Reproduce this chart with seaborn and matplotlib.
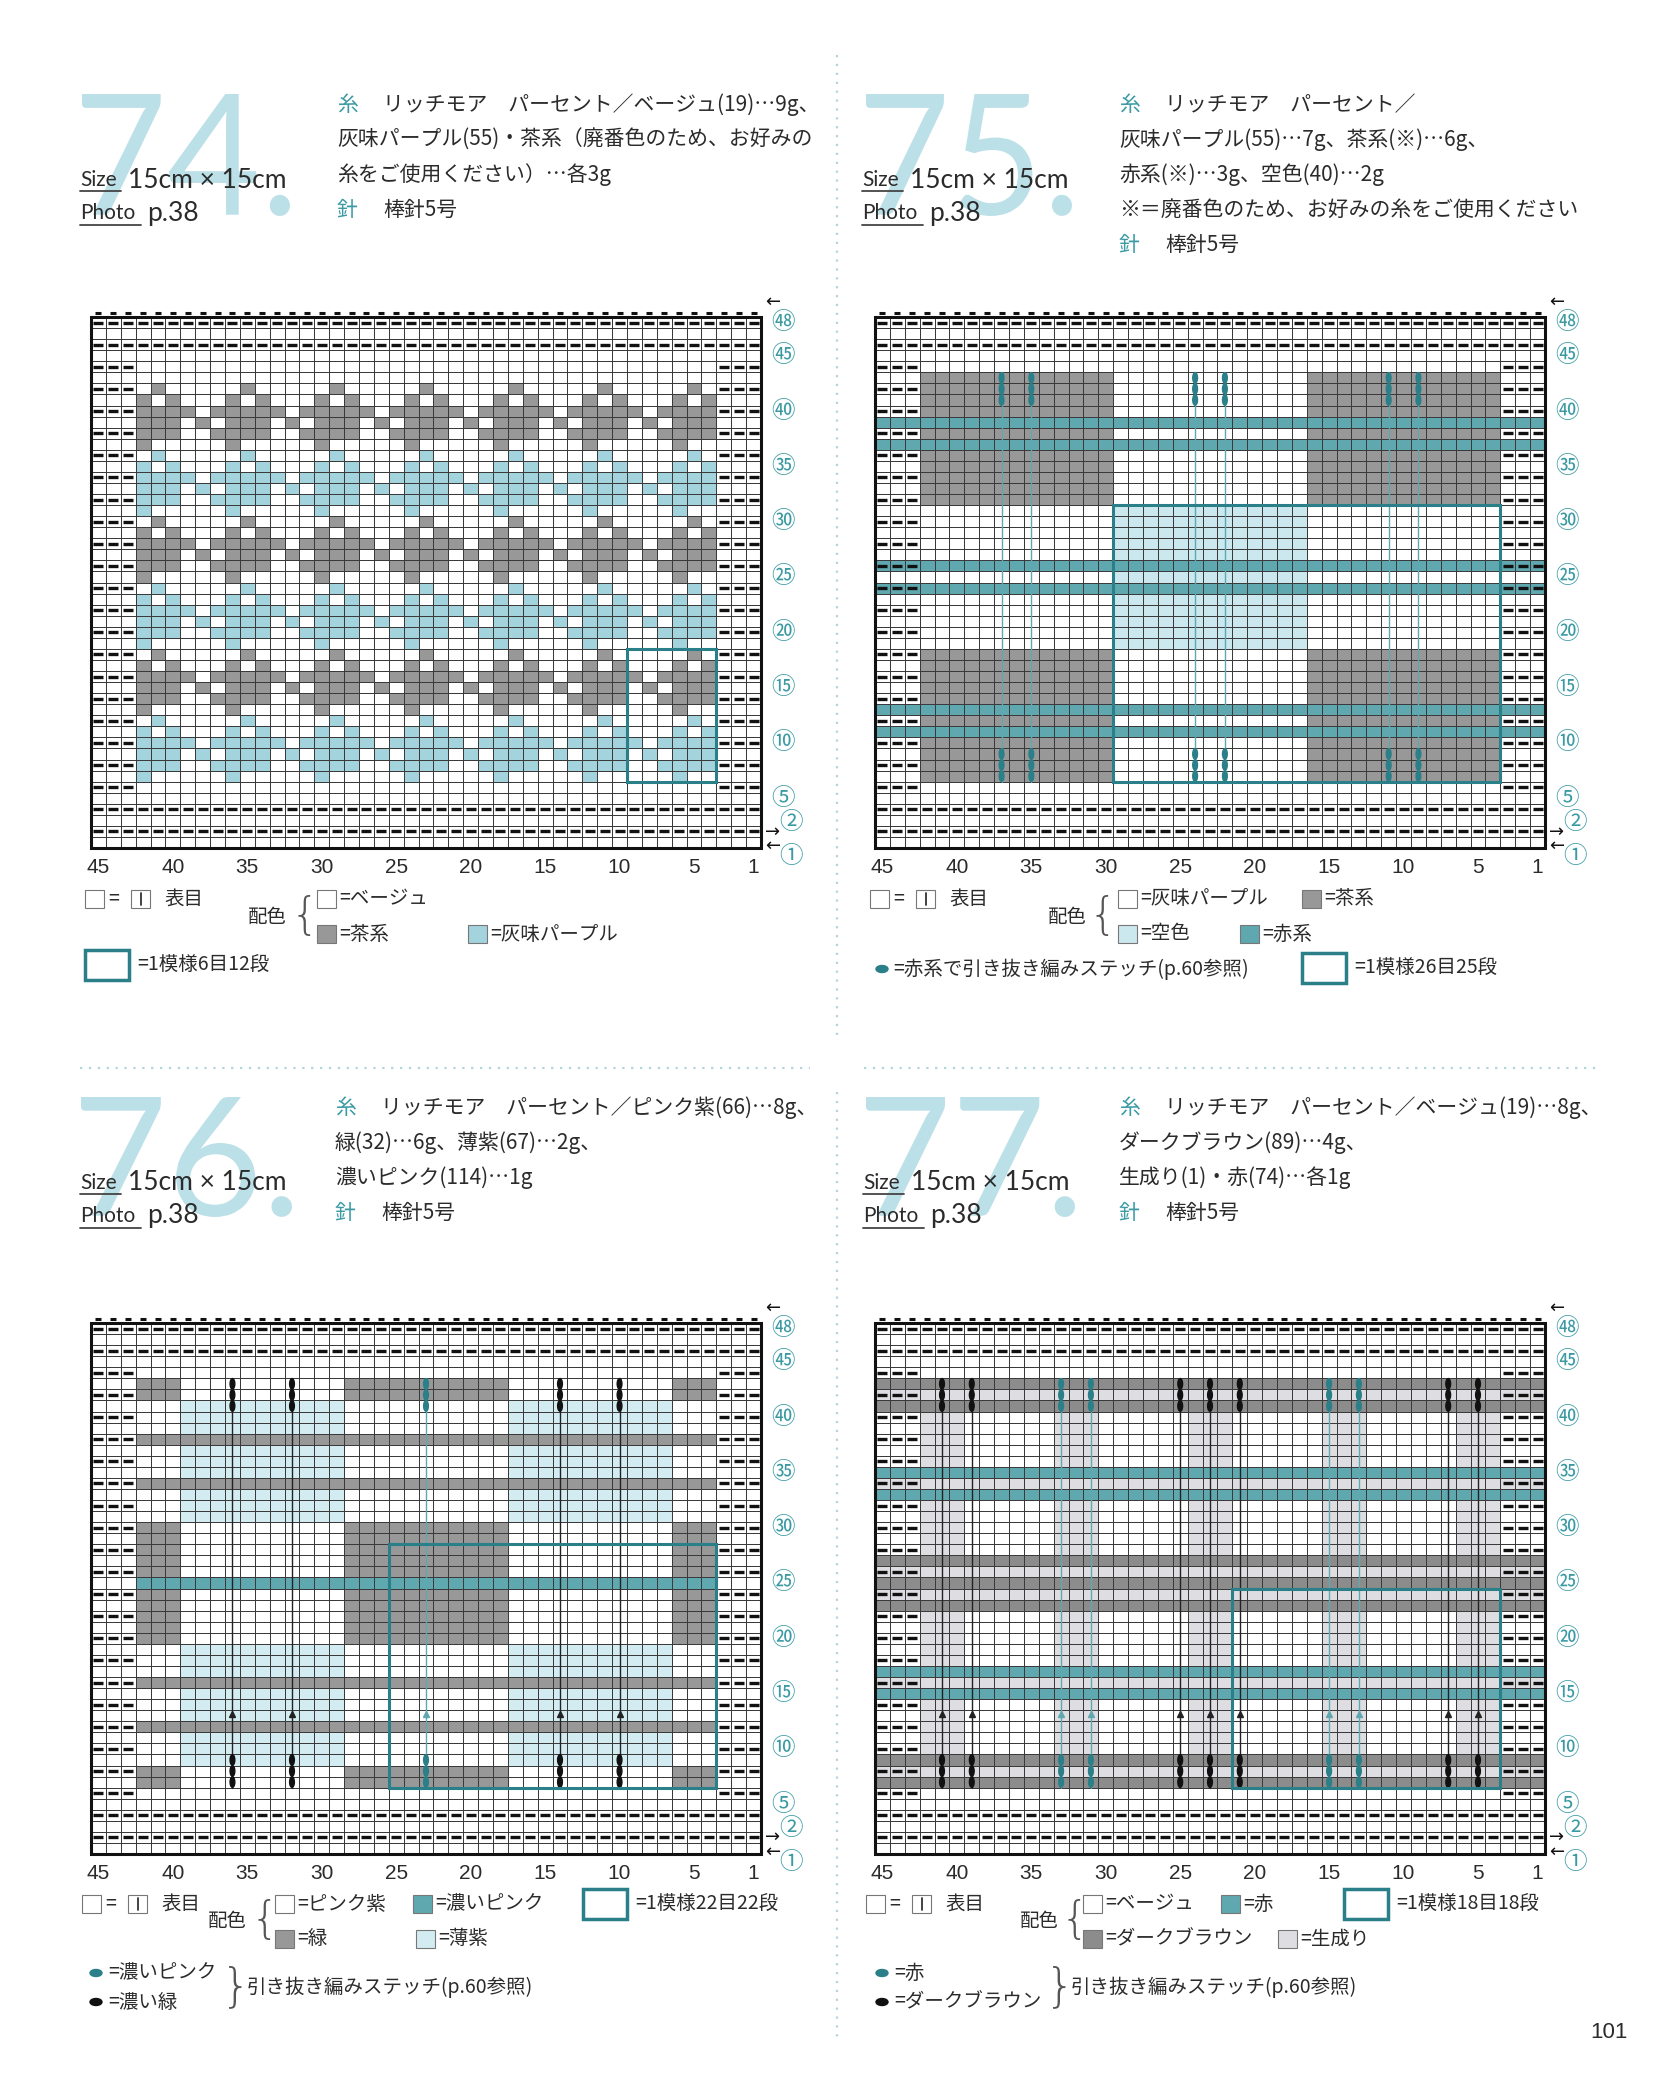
import numpy as np
import matplotlib
matplotlib.use("Agg")
import matplotlib.pyplot as plt
from matplotlib.colors import ListedColormap
from matplotlib.patches import Rectangle, Ellipse, PathPatch
from matplotlib.textpath import TextPath
from matplotlib.font_manager import FontProperties
from matplotlib.transforms import Affine2D
import seaborn as sns

W, H = 1667, 2079
N_COLS, N_ROWS = 45, 48

# ---------------------------------------------------------------- chart data
GARTER_ROWS = [2, 4, 46, 48]
EDGE_COLS = [45, 44, 43, 3, 2, 1]
COL_TICKS = [45, 40, 35, 30, 25, 20, 15, 10, 5, 1]
ROW_TICKS = [48, 45, 40, 35, 30, 25, 20, 15, 10, 5, 2, 1]
CIRCLED = {48: '㊽', 45: '㊺', 40: '㊵', 35: '㉟', 30: '㉚', 25: '㉕', 20: '⑳',
           15: '⑮', 10: '⑩', 5: '⑤', 2: '②', 1: '①'}

# 74: 6 st x 6 row motif (top row first, stitches col 9..4), bands from row 7 up
MOTIF_74 = ['000010', '000101', '101111', '010111', '001111', '000100']
BANDS_74 = [2, 1, 2, 1, 2, 1]          # 2 = 灰味パープル, 1 = 茶系

# 75: (code, col_hi, col_lo, row_lo, row_hi)
BLOCKS_75 = [(1, 42, 30, 7, 18), (1, 16, 4, 7, 18),
             (1, 42, 30, 32, 43), (1, 16, 4, 32, 43),
             (2, 29, 17, 19, 31)]
STRIPES_75 = [11, 13, 24, 26, 37, 39]
SLIP_TEAL_75 = [37, 35, 24, 22, 11, 9]

# 76
BLOCK_COLS_76 = [(42, 40), (28, 18), (6, 4)]
BLOCK_ROWS_76 = [(7, 8), (20, 30), (42, 43)]
LIGHT_COLS_76 = [(39, 29), (17, 7)]
LIGHT_ROWS_76 = [(9, 19), (31, 41)]
GRAY_STRIPES_76 = [12, 16, 34, 38]
TEAL_STRIPES_76 = [25]
SLIP_DARK_76 = [36, 32, 14, 10]
SLIP_TEAL_76 = [23]

# 77
BAND_COLS_77 = [(42, 40), (33, 31), (24, 22), (15, 13), (6, 4)]
LIGHT_ROWS_77 = [8, 16, 24, 26, 34, 42]
DARK_ROWS_77 = [7, 9, 23, 25, 27, 41, 43]
TEAL_ROWS_77 = [15, 17, 33, 35]
SLIP_DARK_77 = [41, 39, 25, 23, 21, 7, 5]
SLIP_TEAL_77 = [33, 31, 15, 13]

# repeat boxes (col_hi, col_lo, row_lo, row_hi)
BOX_74 = (9, 4, 7, 18)
BOX_75 = (29, 4, 7, 31)
BOX_76 = (25, 4, 7, 28)
BOX_77 = (21, 4, 7, 24)

YARN_74 = ['リッチモア　パーセント／ベージュ(19)…9g、',
           '灰味パープル(55)・茶系（廃番色のため、お好みの',
           '糸をご使用ください）…各3g']
YARN_75 = ['リッチモア　パーセント／',
           '灰味パープル(55)…7g、茶系(※)…6g、',
           '赤系(※)…3g、空色(40)…2g',
           '※＝廃番色のため、お好みの糸をご使用ください']
YARN_76 = ['リッチモア　パーセント／ピンク紫(66)…8g、',
           '緑(32)…6g、薄紫(67)…2g、',
           '濃いピンク(114)…1g']
YARN_77 = ['リッチモア　パーセント／ベージュ(19)…8g、',
           'ダークブラウン(89)…4g、',
           '生成り(1)・赤(74)…各1g']
NEEDLE = '棒針5号'

# ---------------------------------------------------------------- colours
WHITE = '#ffffff'
GRAY = '#989898'
TEAL = '#5fa8b0'
TEAL_DK = '#2a7f88'
TEXT_TEAL = '#3b9aa3'
INK = '#2b2b2b'
PAL_74 = [WHITE, GRAY, '#a3d3dd', TEAL, '#e2e2e5']
PAL_75 = [WHITE, GRAY, '#cbe8ef', TEAL, '#e2e2e5']
PAL_76 = [WHITE, GRAY, '#d3ecf2', TEAL, '#e2e2e5']
PAL_77 = [WHITE, '#8c8c8c', '#d3ecf2', TEAL, '#dedee2']

sns.set_style("white")
plt.rcParams['font.family'] = ['Noto Sans CJK JP', 'DejaVu Sans']

fig = plt.figure(figsize=(W / 100, H / 100), dpi=100)
page = fig.add_axes([0, 0, 1, 1], zorder=0)
page.set_xlim(0, W)
page.set_ylim(H, 0)
page.axis('off')


def new_grid():
    return np.zeros((N_ROWS, N_COLS), dtype=int)


def paint(mat, code, c_hi, c_lo, r_lo, r_hi):
    mat[N_ROWS - r_hi:N_ROWS - r_lo + 1, N_COLS - c_hi:N_COLS - c_lo + 1] = code


def cx(c):
    return N_COLS - c + 0.5


def cy(r):
    return N_ROWS - r + 0.5


def slip_line(ax, col, line_col, dot_col):
    x = cx(col)
    ax.plot([x, x], [N_ROWS - 6, N_ROWS - 43], color=line_col, lw=1.0, zorder=4)
    for r in (7, 8, 9, 41, 42, 43):
        ax.add_patch(Ellipse((x, cy(r)), 0.32, 0.95, color=dot_col, zorder=5))
    ax.plot(x, N_ROWS - 12.7, marker='^', ms=4, color=line_col, zorder=5)


def draw_chart(rect, mat, colors, box, slips):
    x0, y0, x1, y1 = rect
    ax = fig.add_axes([x0 / W, 1 - y1 / H, (x1 - x0) / W, (y1 - y0) / H], zorder=2)
    sns.heatmap(mat, ax=ax, cmap=ListedColormap(colors), vmin=-0.5,
                vmax=len(colors) - 0.5, cbar=False, linewidths=0.7,
                linecolor='#3a3a3a', xticklabels=False, yticklabels=False)
    ax.set_xlim(0, N_COLS)
    ax.set_ylim(N_ROWS, 0)

    # purl dashes (garter rows and side borders)
    xs, ys = [], []
    for r in range(1, N_ROWS + 1):
        if r in GARTER_ROWS:
            cols = range(1, N_COLS + 1)
        elif r % 2 == 0 and 6 <= r <= 44:
            cols = EDGE_COLS
        else:
            continue
        for c in cols:
            xs.append(cx(c))
            ys.append(cy(r))
    ax.plot(xs, ys, ls='none', marker='_', ms=6.5, mew=2.4, color='#111', zorder=3)
    ax.plot(np.arange(N_COLS) + 0.5, np.full(N_COLS, -0.4), ls='none', marker='_',
            ms=5, mew=2.2, color='#111', clip_on=False)

    for col, line_col, dot_col in slips:
        slip_line(ax, col, line_col, dot_col)

    c_hi, c_lo, r_lo, r_hi = box
    ax.add_patch(Rectangle((N_COLS - c_hi, N_ROWS - r_hi), c_hi - c_lo + 1, r_hi - r_lo + 1,
                           fill=False, ec=TEAL_DK, lw=2.2, zorder=6))
    ax.add_patch(Rectangle((0, 0), N_COLS, N_ROWS, fill=False, ec='#111', lw=2.2,
                           clip_on=False, zorder=7))

    for c in COL_TICKS:
        ax.text(cx(c), N_ROWS + 1.75, str(c), ha='center', va='center', fontsize=15,
                family='Liberation Sans', color=INK, clip_on=False)
    for r in ROW_TICKS:
        if r == 2:
            pos = (N_COLS + 2.0, N_ROWS - 2.3)
        elif r == 1:
            pos = (N_COLS + 2.0, N_ROWS + 0.75)
        else:
            pos = (N_COLS + 1.45, cy(r))
        ax.text(pos[0], pos[1], CIRCLED[r], ha='center', va='center', fontsize=17,
                color=TEXT_TEAL, clip_on=False)
    ax.text(N_COLS + 0.8, -1.35, '←', ha='center', va='center', fontsize=13,
            family='DejaVu Sans', color='#111', clip_on=False)
    ax.text(N_COLS + 0.8, cy(2), '→', ha='center', va='center', fontsize=13,
            family='DejaVu Sans', color='#111', clip_on=False)
    ax.text(N_COLS + 0.8, cy(1) + 0.3, '←', ha='center', va='center', fontsize=13,
            family='DejaVu Sans', color='#111', clip_on=False)
    return ax


# ---------------------------------------------------------------- grids
m74 = new_grid()
for k, code in enumerate(BANDS_74):
    base = 7 + 6 * k
    for m, pattern in enumerate(MOTIF_74):
        r = base + 5 - m
        for c in range(42, 3, -1):
            if pattern[(9 - c) % 6] == '1':
                paint(m74, code, c, c, r, r)

m75 = new_grid()
for code, ch, cl, rl, rh in BLOCKS_75:
    paint(m75, code, ch, cl, rl, rh)
for r in STRIPES_75:
    paint(m75, 3, 45, 1, r, r)

m76 = new_grid()
for ch, cl in BLOCK_COLS_76:
    for rl, rh in BLOCK_ROWS_76:
        paint(m76, 1, ch, cl, rl, rh)
for ch, cl in LIGHT_COLS_76:
    for rl, rh in LIGHT_ROWS_76:
        paint(m76, 2, ch, cl, rl, rh)
for r in GRAY_STRIPES_76:
    paint(m76, 1, 42, 4, r, r)
for r in TEAL_STRIPES_76:
    paint(m76, 3, 42, 4, r, r)

m77 = new_grid()
for ch, cl in BAND_COLS_77:
    paint(m77, 4, ch, cl, 7, 43)
for r in LIGHT_ROWS_77:
    paint(m77, 4, 45, 1, r, r)
for r in DARK_ROWS_77:
    paint(m77, 1, 45, 1, r, r)
for r in TEAL_ROWS_77:
    paint(m77, 3, 45, 1, r, r)

draw_chart((91, 317, 761, 848), m74, PAL_74, BOX_74, [])
draw_chart((875, 317, 1545, 848), m75, PAL_75, BOX_75,
           [(c, TEAL, TEAL_DK) for c in SLIP_TEAL_75])
draw_chart((91, 1323, 761, 1854), m76, PAL_76, BOX_76,
           [(c, '#222', '#111') for c in SLIP_DARK_76] +
           [(c, TEAL, TEAL_DK) for c in SLIP_TEAL_76])
draw_chart((875, 1323, 1545, 1854), m77, PAL_77, BOX_77,
           [(c, '#222', '#111') for c in SLIP_DARK_77] +
           [(c, TEAL, TEAL_DK) for c in SLIP_TEAL_77])


# ---------------------------------------------------------------- page text
def txt(x, y, s, size=15, color=INK, **kw):
    page.text(x, y, s, fontsize=size, color=color, va='center', ha='left', **kw)


def big_number(s, box):
    x0, y0, x1, y1 = box
    tp = TextPath((0, 0), s, size=100, prop=FontProperties(family='Lato'))
    ext = tp.get_extents()
    tr = (Affine2D().translate(-ext.x0, -ext.y0)
          .scale((x1 - x0) / ext.width, -(y1 - y0) / ext.height).translate(x0, y1))
    page.add_patch(PathPatch(tr.transform_path(tp), fc='#bce0e8', ec='none'))


def header(num, nbox, sx, sy, yx, yy, lines):
    big_number(num, nbox)
    txt(sx, sy, 'Size', size=15, family='Lato')
    txt(sx + 48, sy, '15cm × 15cm', size=19, family='Lato')
    page.plot([sx, sx + 41], [sy + 11, sy + 11], color='#444', lw=1.3)
    txt(sx, sy + 33, 'Photo', size=15, family='Lato')
    txt(sx + 67, sy + 33, 'p.38', size=19, family='Lato')
    page.plot([sx, sx + 61], [sy + 45, sy + 45], color='#444', lw=1.3)
    txt(yx, yy, '糸', color=TEXT_TEAL)
    for i, line in enumerate(lines):
        if i == 0:
            txt(yx + 46, yy, line)
        else:
            txt(yx, yy + 35 * i, line)
    ny = yy + 35 * len(lines)
    txt(yx, ny, '針', color=TEXT_TEAL)
    txt(yx + 46, ny, NEEDLE)


header('74.', (82, 94, 290, 216), 80, 180, 337, 105, YARN_74)
header('75.', (866, 94, 1072, 216), 862, 180, 1119, 105, YARN_75)
header('76.', (81, 1097, 292, 1217), 80, 1183, 335, 1108, YARN_76)
header('77.', (866, 1097, 1075, 1217), 863, 1183, 1119, 1108, YARN_77)

# separators
page.plot([80, 810], [1068, 1068], color='#b5d3da', lw=1.6, ls=(0, (1, 3)))
page.plot([864, 1598], [1068, 1068], color='#b5d3da', lw=1.6, ls=(0, (1, 3)))
page.plot([837, 837], [55, 1040], color='#b5d3da', lw=1.6, ls=(0, (1, 3)))
page.plot([837, 837], [1092, 2040], color='#b5d3da', lw=1.6, ls=(0, (1, 3)))


def swatch(x, y, color, label=None):
    page.add_patch(Rectangle((x, y - 9), 19, 18, fc=color, ec='#777', lw=0.8))
    if label:
        txt(x + 22, y, label, size=14)


def knit_key(x, y):
    swatch(x, y, WHITE)
    txt(x + 23, y, '=', size=14)
    swatch(x + 46, y, WHITE)
    page.plot([x + 55.5, x + 55.5], [y - 6, y + 6], color='#333', lw=1.3)
    txt(x + 79, y, '表目', size=14)


def repeat_key(x, y, label):
    page.add_patch(Rectangle((x, y - 15), 44, 30, fill=False, ec=TEAL_DK, lw=2.5))
    txt(x + 52, y, label, size=14)


def brace(x, y, s, size=30):
    page.text(x, y, s, fontsize=size, color='#555', va='center', ha='center',
              family='DejaVu Sans', fontweight='light')


def dot(x, y, color):
    page.add_patch(Ellipse((x, y), 12, 7, color=color))


# 74 legend
knit_key(85, 899)
txt(248, 917, '配色', size=14)
brace(305, 917, '{', 32)
swatch(317, 899, WHITE, '=ベージュ')
swatch(317, 934, GRAY, '=茶系')
swatch(468, 934, PAL_74[2], '=灰味パープル')
repeat_key(85, 965, '=1模様6目12段')

# 75 legend
knit_key(870, 899)
txt(1048, 917, '配色', size=14)
brace(1103, 917, '{', 32)
swatch(1118, 899, WHITE, '=灰味パープル')
swatch(1302, 899, GRAY, '=茶系')
swatch(1118, 934, PAL_75[2], '=空色')
swatch(1240, 934, TEAL, '=赤系')
dot(882, 969, TEAL_DK)
txt(893, 969, '=赤系で引き抜き編みステッチ(p.60参照)', size=14)
repeat_key(1302, 968, '=1模様26目25段')

# 76 legend
knit_key(82, 1904)
txt(208, 1921, '配色', size=14)
brace(265, 1921, '{', 32)
swatch(275, 1904, WHITE, '=ピンク紫')
swatch(413, 1904, TEAL, '=濃いピンク')
swatch(275, 1939, GRAY, '=緑')
swatch(416, 1939, PAL_76[2], '=薄紫')
repeat_key(583, 1904, '=1模様22目22段')
dot(96, 1973, TEAL_DK)
txt(108, 1973, '=濃いピンク', size=14)
dot(96, 2002, '#111')
txt(108, 2002, '=濃い緑', size=14)
brace(236, 1987, '}', 34)
txt(247, 1987, '引き抜き編みステッチ(p.60参照)', size=14)

# 77 legend
knit_key(866, 1904)
txt(1020, 1921, '配色', size=14)
brace(1075, 1921, '{', 32)
swatch(1083, 1904, WHITE, '=ベージュ')
swatch(1221, 1904, TEAL, '=赤')
swatch(1083, 1939, PAL_77[1], '=ダークブラウン')
swatch(1278, 1939, PAL_77[4], '=生成り')
repeat_key(1344, 1904, '=1模様18目18段')
dot(882, 1973, TEAL_DK)
txt(894, 1973, '=赤', size=14)
dot(882, 2002, '#111')
txt(894, 2002, '=ダークブラウン', size=14)
brace(1060, 1987, '}', 34)
txt(1071, 1987, '引き抜き編みステッチ(p.60参照)', size=14)

txt(1590, 2033, '101', size=16, family='Liberation Sans')

fig.savefig('out.png', dpi=100, facecolor='white')
